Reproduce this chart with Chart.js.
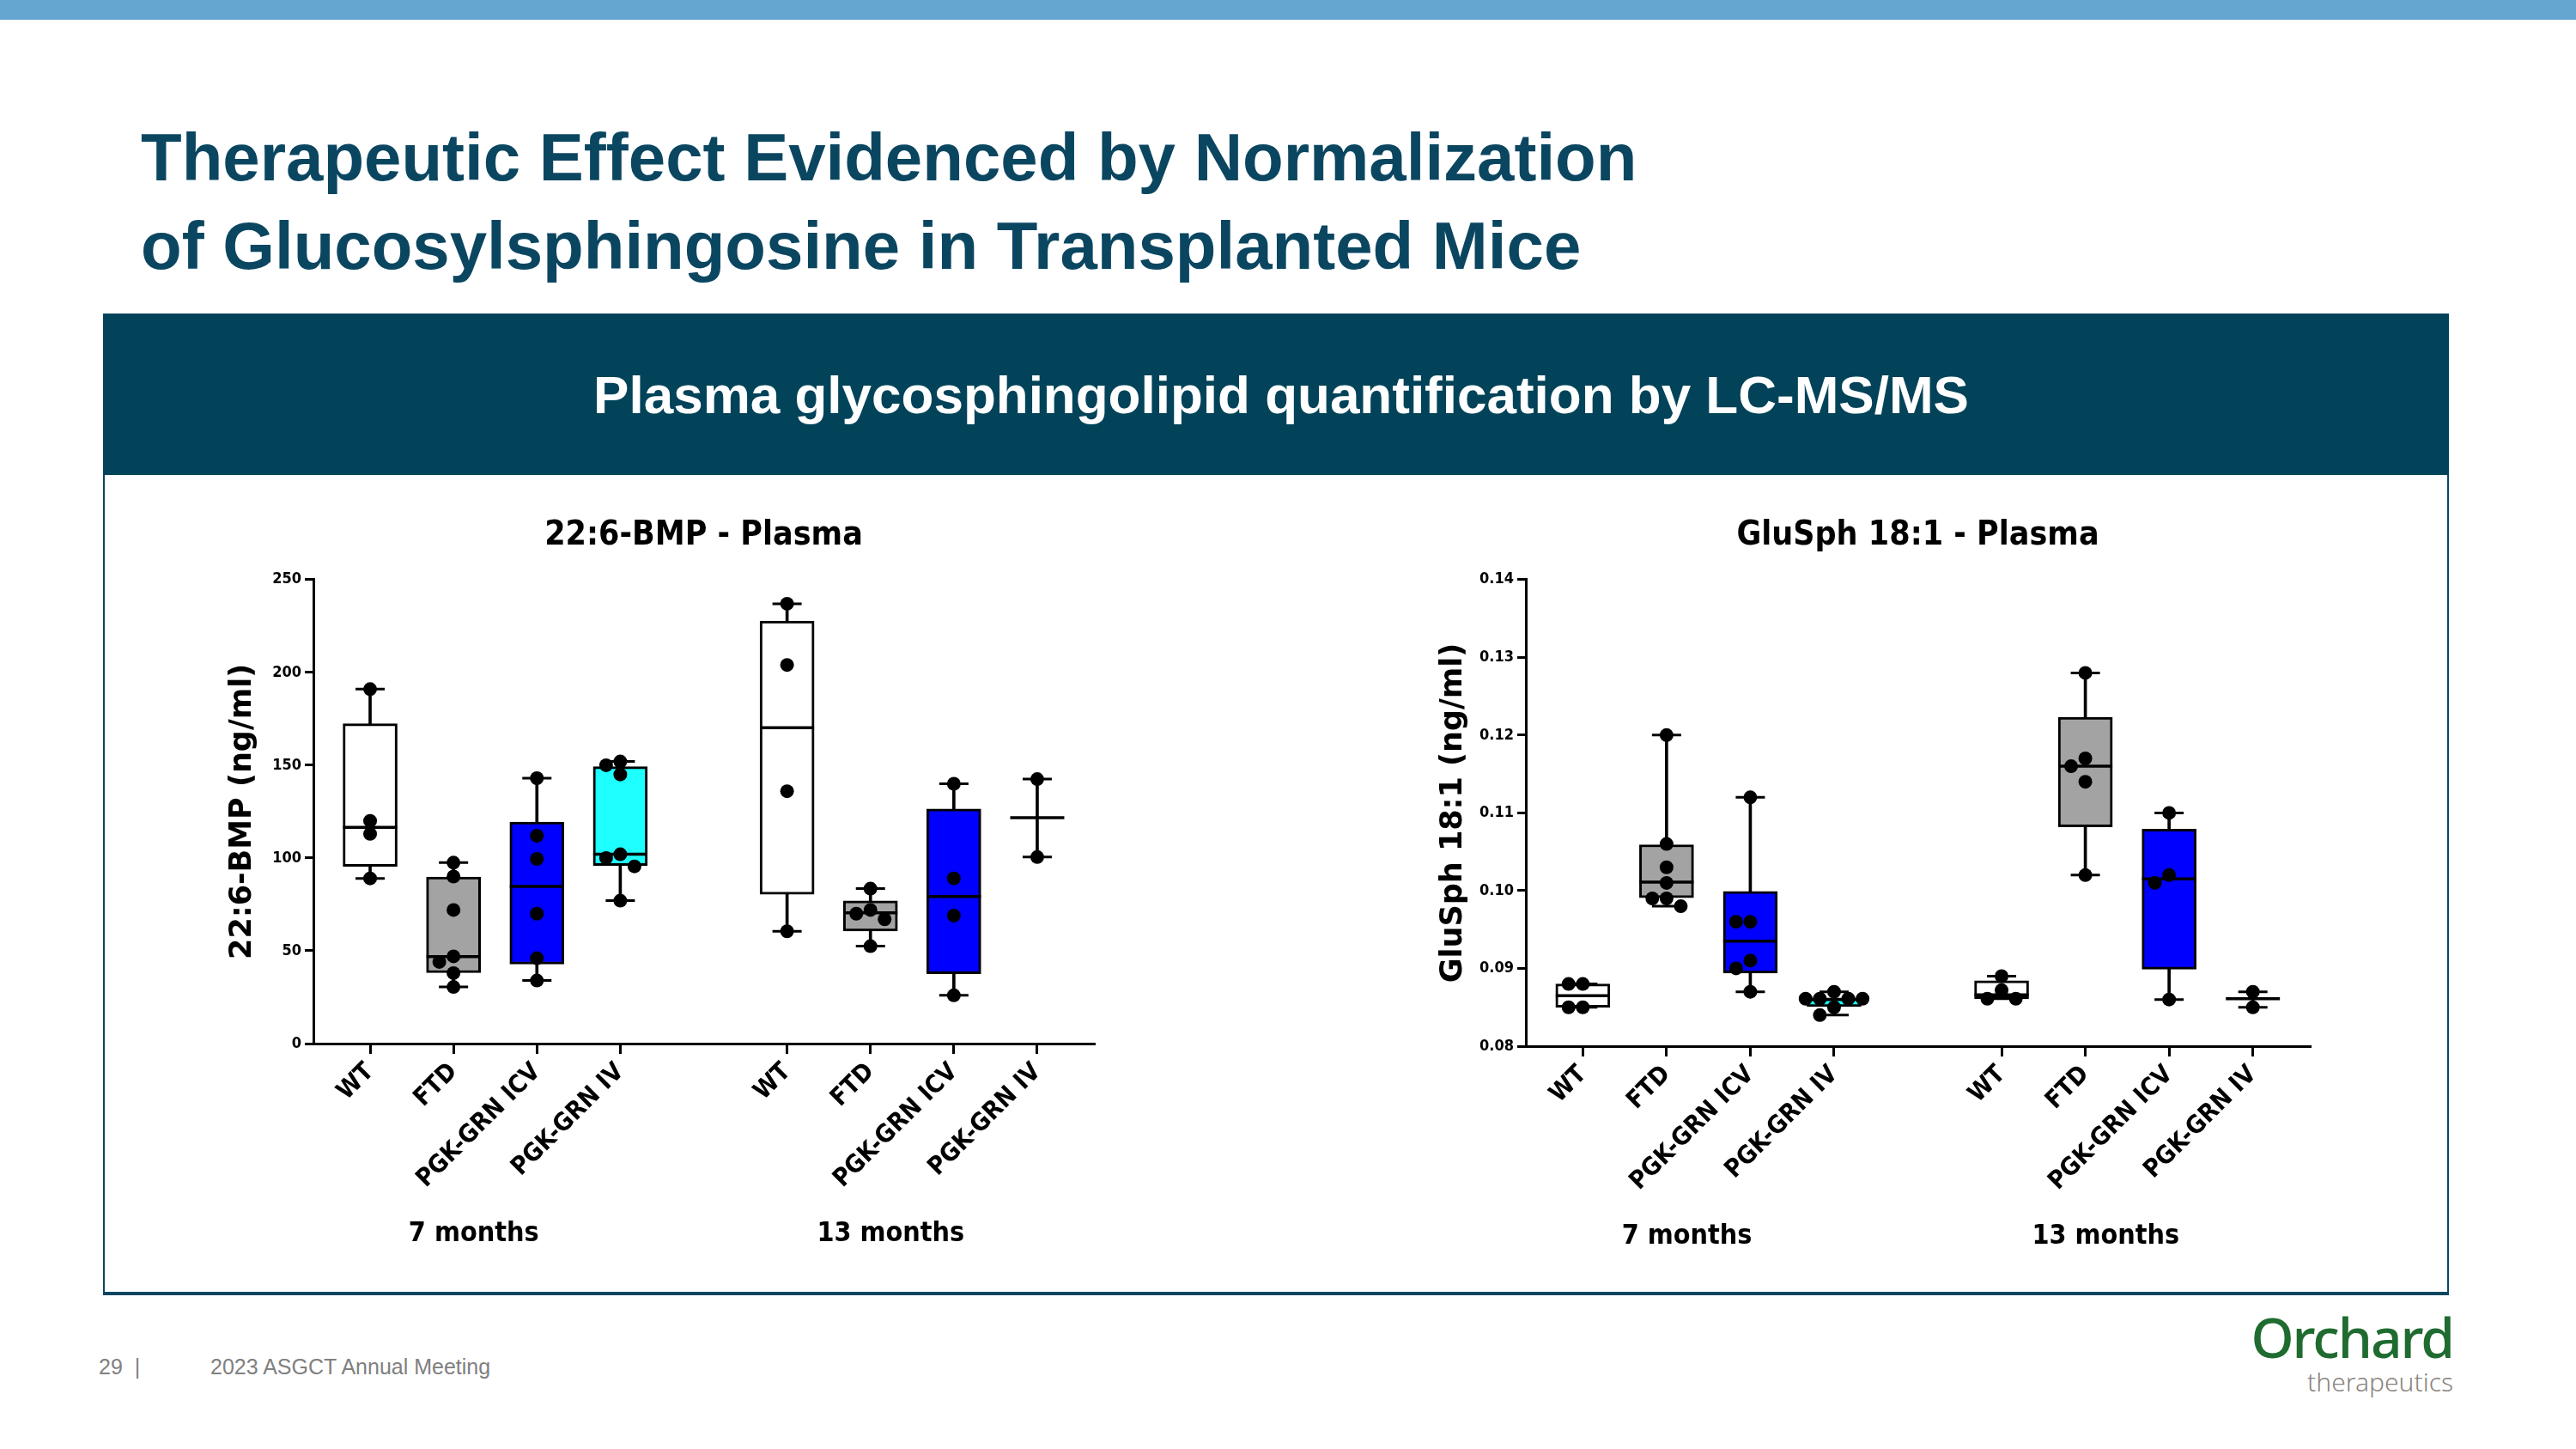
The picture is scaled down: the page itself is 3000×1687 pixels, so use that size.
<!DOCTYPE html>
<html>
<head>
<meta charset="utf-8">
<script src="https://cdn.jsdelivr.net/npm/chart.js@4.4.1/dist/chart.umd.min.js"></script>
<style>
  body { margin: 0; width: 3000px; height: 1687px; background: #fff; position: relative; overflow: hidden; font-family: 'Liberation Sans', Arial, sans-serif; }
  .topbar { position: absolute; left: 0; top: 0; width: 3000px; height: 23px; background: #64a6d0; }
  .title { position: absolute; left: 164px; top: 132px; font-size: 78px; line-height: 103px; font-weight: bold; color: #0b4661; }
  .band { position: absolute; left: 120px; top: 365px; width: 2732px; height: 188px; box-sizing: border-box; padding-left: 12px; background: #024359; color: #fff; font-size: 62px; font-weight: bold; display: flex; align-items: center; justify-content: center; }
  .panel { position: absolute; left: 120px; top: 553px; width: 2732px; height: 955px; box-sizing: border-box; border: 2px solid #0b4661; border-top: none; border-bottom-width: 4px; }
  canvas { position: absolute; top: 560px; }
  #chartBmp { left: 130px; }
  #chartGlu { left: 1540px; }
  .footer { position: absolute; top: 1577px; font-size: 25px; color: #808080; }
  .logo { position: absolute; left: 2612px; top: 1522px; width: 245px; text-align: right; font-family: 'Noto Sans', sans-serif; }
  .logo .name { font-size: 64px; line-height: 70px; color: #1f6b30; font-weight: 500; letter-spacing: -2px; }
  .logo .sub { font-size: 30px; line-height: 34px; color: #8a8580; font-weight: 300; }
</style>
</head>
<body>
<div class="topbar"></div>
<div class="title">Therapeutic Effect Evidenced by Normalization<br>of Glucosylsphingosine in Transplanted Mice</div>
<div class="band">Plasma glycosphingolipid quantification by LC-MS/MS</div>
<div class="panel"></div>
<canvas id="chartBmp" width="1200" height="940"></canvas>
<canvas id="chartGlu" width="1200" height="940"></canvas>
<div class="footer" style="left:115px">29 &nbsp;|</div>
<div class="footer" style="left:245px">2023 ASGCT Annual Meeting</div>
<div class="logo"><div class="name">Orchard</div><div class="sub">therapeutics</div></div>

<script>
// Grupos e posições no eixo (slot 4 vazio separa os dois tempos)
const xPositions = [0, 1, 2, 3, 5, 6, 7, 8];
const groupNames = ['WT', 'FTD', 'PGK-GRN ICV', 'PGK-GRN IV', 'WT', 'FTD', 'PGK-GRN ICV', 'PGK-GRN IV'];
const boxColors = ['#ffffff', '#a3a3a3', '#0000ff', '#1effff', '#ffffff', '#a3a3a3', '#0000ff', '#1effff'];
const timepoints = ['7 months', '13 months'];
const timepointCenters = [1.5, 6.5];

// 22:6-BMP (ng/ml)
const bmpPoints = [
    [191, 120, 113, 89],
    [97.5, 90, 72, 47, 44, 38, 30.5],
    [143, 112, 99.5, 70, 46, 34],
    [152, 150, 145, 102, 100, 95.5, 77],
    [237, 204, 136, 60.5],
    [83.5, 72, 70, 67, 52.5],
    [140, 89, 69, 26],
    [142.5, 100.5]
];
const bmpQ1 = [95.5, 38.2, 42.8, 95.9, 80.4, 60.7, 37.6, null];
const bmpMedian = [116.5, 46.9, 84.7, 102, 170.2, 70.5, 79.2, 121.7];
const bmpQ3 = [172.3, 89.7, 119.4, 149.2, 227.7, 76.9, 126.4, null];

// GluSph 18:1 (ng/ml)
const gluPoints = [
    [0.088, 0.088, 0.085, 0.085],
    [0.120, 0.106, 0.103, 0.101, 0.099, 0.099, 0.098],
    [0.112, 0.096, 0.096, 0.091, 0.090, 0.087],
    [0.0870, 0.0861, 0.0861, 0.0861, 0.0861, 0.0850, 0.0840],
    [0.0890, 0.0872, 0.0861, 0.0861],
    [0.128, 0.117, 0.116, 0.114, 0.102],
    [0.110, 0.102, 0.101, 0.086],
    [0.087, 0.085]
];
const gluQ1 = [0.0850, 0.0991, 0.0894, 0.0851, 0.0861, 0.1082, 0.0899, null];
const gluMedian = [0.0865, 0.1011, 0.0935, 0.0860, 0.0866, 0.1160, 0.1015, 0.0861];
const gluQ3 = [0.0880, 0.1059, 0.0999, 0.0862, 0.0884, 0.1223, 0.1079, null];

const CONDENSED = '"DejaVu Sans Condensed", "DejaVu Sans", sans-serif';
const DOT_RADIUS = 8;
const PLOT_HEIGHT = 540;
const JITTER = 0.17;

// Espalha pontos que se sobrepõem (estilo Prism)
function spreadPoints(points, x, yRange) {
    const dy = yRange * DOT_RADIUS * 2 / PLOT_HEIGHT;
    const placed = [];
    points.forEach(v => {
        for (const k of [0, -1, 1, -2, 2, -3, 3]) {
            const clash = placed.some(p => Math.hypot(p.k - k, (p.v - v) / dy) < 0.9);
            if (!clash) { placed.push({ k, v }); break; }
        }
    });
    return placed.map(p => ({ x: x + p.k * JITTER, y: p.v }));
}

// Rótulos "7 months" / "13 months"
const timepointPlugin = {
    id: 'timepoints',
    afterDraw(chart) {
        const { ctx, chartArea, scales: { x } } = chart;
        ctx.save();
        ctx.font = 'bold 32px ' + CONDENSED;
        ctx.fillStyle = '#000';
        ctx.textAlign = 'center';
        ctx.textBaseline = 'middle';
        timepoints.forEach((t, i) => {
            ctx.fillText(t, x.getPixelForValue(timepointCenters[i]) - 25, chartArea.bottom + 222);
        });
        ctx.restore();
    }
};

function buildChart(id, o) {
    const whiskers = xPositions.map((x, i) => ({ x, y: [Math.min(...o.points[i]), Math.max(...o.points[i])] }));
    const boxIdx = xPositions.map((x, i) => i).filter(i => o.q1[i] !== null);
    const boxes = boxIdx.map(i => ({ x: xPositions[i], y: [o.q1[i], o.q3[i]] }));
    const caps = whiskers.flatMap(w => [{ x: w.x, y: w.y[0] }, { x: w.x, y: w.y[1] }]);
    const medians = xPositions.map((x, i) => ({ x, y: o.median[i] }));
    const dots = xPositions.flatMap((x, i) => spreadPoints(o.points[i], x, o.yMax - o.yMin));

    return new Chart(document.getElementById(id), {
        type: 'scatter',
        data: {
            datasets: [
                { type: 'bar', data: whiskers, backgroundColor: '#000', barThickness: 3, grouped: false, order: 4 },
                { type: 'bar', data: boxes, backgroundColor: boxIdx.map(i => boxColors[i]), borderColor: '#000', borderWidth: 3, borderSkipped: false, barThickness: 63, grouped: false, order: 3 },
                { data: caps, pointStyle: 'line', pointRadius: 17, pointBorderColor: '#000', pointBorderWidth: 3, order: 2 },
                { data: medians, pointStyle: 'line', pointRadius: 31.5, pointBorderColor: '#000', pointBorderWidth: 3.5, order: 2 },
                { data: dots, pointStyle: 'circle', pointRadius: DOT_RADIUS, pointBackgroundColor: '#000', pointBorderWidth: 0, order: 1 }
            ]
        },
        options: {
            responsive: false,
            animation: false,
            events: [],
            layout: { padding: { top: 30, right: o.padRight, left: 0, bottom: 0 } },
            plugins: {
                legend: { display: false },
                tooltip: { enabled: false },
                title: {
                    display: true, text: o.title, fullSize: false, color: '#000',
                    font: { family: CONDENSED, weight: 'bold', size: 39 },
                    padding: { top: 10, bottom: 28 }
                }
            },
            scales: {
                x: {
                    type: 'linear', min: -0.68, max: 8.68, offset: false,
                    border: { display: true, color: '#000', width: 3 },
                    grid: { display: true, offset: false, drawOnChartArea: false, color: '#000', tickLength: 12, lineWidth: 3 },
                    afterBuildTicks: s => { s.ticks = xPositions.map(v => ({ value: v })); },
                    ticks: {
                        autoSkip: false, minRotation: 45, maxRotation: 45, padding: 4, color: '#000',
                        font: { family: CONDENSED, weight: 'bold', size: 29 },
                        callback: v => groupNames[xPositions.indexOf(v)]
                    },
                    afterFit: s => { s.height = o.axisBottom; }
                },
                y: {
                    min: o.yMin, max: o.yMax,
                    border: { display: true, color: '#000', width: 3 },
                    grid: { display: true, drawOnChartArea: false, color: '#000', tickLength: 10, lineWidth: 3 },
                    ticks: {
                        stepSize: o.yStep, padding: 4, color: '#000',
                        font: { family: CONDENSED, weight: 'bold', size: 18 },
                        callback: v => o.fmt(v)
                    },
                    title: {
                        display: true, text: o.yTitle, color: '#000',
                        font: { family: '"DejaVu Sans", sans-serif', weight: 'bold', size: 35 },
                        padding: { top: 132, bottom: 0 }
                    },
                    afterFit: s => { s.width = o.axisLeft; }
                }
            }
        },
        plugins: [timepointPlugin]
    });
}

buildChart('chartBmp', {
    title: '22:6-BMP - Plasma', yTitle: '22:6-BMP (ng/ml)',
    points: bmpPoints, q1: bmpQ1, median: bmpMedian, q3: bmpQ3,
    yMin: 0, yMax: 250, yStep: 50, fmt: v => String(v),
    axisLeft: 235, padRight: 56, axisBottom: 285
});

buildChart('chartGlu', {
    title: 'GluSph 18:1 - Plasma', yTitle: 'GluSph 18:1 (ng/ml)',
    points: gluPoints, q1: gluQ1, median: gluMedian, q3: gluQ3,
    yMin: 0.08, yMax: 0.14, yStep: 0.01, fmt: v => v.toFixed(2),
    axisLeft: 237, padRight: 50, axisBottom: 282
});
</script>
</body>
</html>
